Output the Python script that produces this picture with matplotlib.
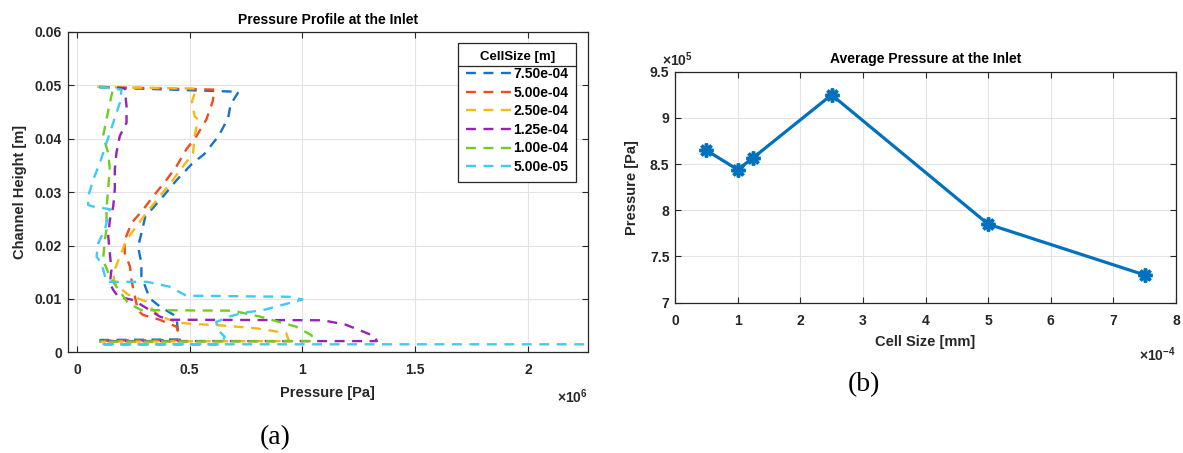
import matplotlib
import matplotlib.pyplot as plt
from matplotlib.lines import Line2D
from matplotlib.ticker import FuncFormatter
import numpy as np

matplotlib.use("Agg")

plt.rcParams["font.family"] = ["Liberation Sans", "DejaVu Sans"]
plt.rcParams["font.weight"] = "bold"
plt.rcParams["axes.labelweight"] = "bold"
plt.rcParams["mathtext.fontset"] = "custom"
plt.rcParams["mathtext.rm"] = "Liberation Sans"

# cell sizes [m] and their line colours (MATLAB-like order)
cell_sizes = [7.5e-4, 5.0e-4, 2.5e-4, 1.25e-4, 1.0e-4, 5.0e-5]
colors = ["#1572c6", "#f04d1a", "#f6b812", "#9622b8", "#72cc22", "#3fcbf2"]

# pressure profiles at the inlet, pressure in 1e6 Pa, height in m
p_750 = [0.10, 0.196, 0.717, 0.681, 0.671, 0.628, 0.564, 0.51, 0.441, 0.38, 0.303,
         0.286, 0.271, 0.286, 0.286, 0.323, 0.367, 0.441, 0.449, 0.449, 0.10]
h_750 = [0.0497, 0.0495, 0.0488, 0.0464, 0.0439, 0.0405, 0.0371, 0.0353, 0.0322, 0.0291,
         0.0254, 0.0223, 0.0198, 0.0167, 0.0142, 0.0101, 0.0086, 0.0067, 0.0036, 0.0024, 0.0023]

p_500 = [0.10, 0.61, 0.602, 0.574, 0.53, 0.485, 0.441, 0.397, 0.338, 0.293, 0.242, 0.212,
         0.212, 0.235, 0.242, 0.252, 0.271, 0.293, 0.367, 0.441, 0.456, 0.456, 0.12]
h_500 = [0.0497, 0.0492, 0.047, 0.0436, 0.0405, 0.038, 0.0348, 0.0323, 0.0292, 0.0267,
         0.0242, 0.021, 0.0186, 0.0161, 0.0136, 0.0114, 0.0078, 0.007, 0.0061, 0.0048,
         0.003, 0.0023, 0.0022]

p_250 = [0.09, 0.53, 0.51, 0.522, 0.537, 0.522, 0.515, 0.47, 0.426, 0.367, 0.308, 0.264,
         0.22, 0.19, 0.161, 0.168, 0.227, 0.308, 0.338, 0.367, 0.441, 0.515, 0.618, 0.707,
         0.795, 0.854, 0.928, 0.94, 0.10]
h_250 = [0.0497, 0.0494, 0.047, 0.0442, 0.0436, 0.0405, 0.0373, 0.0348, 0.0323, 0.0292,
         0.0261, 0.0236, 0.0211, 0.0179, 0.0148, 0.0129, 0.0108, 0.0095, 0.0079, 0.0068,
         0.0056, 0.0053, 0.0051, 0.0048, 0.0045, 0.0041, 0.0036, 0.0021, 0.0020]

p_125 = [0.10, 0.212, 0.22, 0.22, 0.19, 0.175, 0.168, 0.168, 0.161, 0.146, 0.139, 0.146,
         0.153, 0.146, 0.161, 0.183, 0.249, 0.308, 0.367, 0.41, 1.09, 1.19, 1.25, 1.32,
         1.33, 0.10]
h_125 = [0.0497, 0.0495, 0.0461, 0.043, 0.0405, 0.0373, 0.0342, 0.0305, 0.0273, 0.0248,
         0.0217, 0.0186, 0.0154, 0.0129, 0.0117, 0.0104, 0.0098, 0.0083, 0.0067, 0.0061,
         0.006, 0.0052, 0.0042, 0.003, 0.0021, 0.0021]

p_100 = [0.10, 0.161, 0.146, 0.131, 0.116, 0.139, 0.146, 0.139, 0.131, 0.131, 0.124, 0.116,
         0.146, 0.175, 0.227, 0.286, 0.69, 0.81, 0.972, 1.04, 1.05, 0.10]
h_100 = [0.0497, 0.0495, 0.0467, 0.0436, 0.0405, 0.0373, 0.0342, 0.031, 0.0267, 0.023,
         0.0211, 0.0173, 0.0142, 0.0123, 0.0092, 0.0079, 0.0078, 0.0067, 0.0048, 0.0032,
         0.0021, 0.0020]

p_050 = [0.10, 0.198, 0.19, 0.161, 0.131, 0.102, 0.072, 0.05, 0.05, 0.072, 0.146, 0.124,
         0.094, 0.087, 0.109, 0.131, 0.31, 0.41, 0.485, 0.94, 1.0, 0.913, 0.825, 0.736,
         0.677, 0.618, 0.625, 0.655, 0.64, 0.10, 2.5]
h_050 = [0.0497, 0.0492, 0.0467, 0.043, 0.0392, 0.0355, 0.0323, 0.0292, 0.0276, 0.0273,
         0.0268, 0.023, 0.0204, 0.0179, 0.0167, 0.0132, 0.0132, 0.0123, 0.0106, 0.0104,
         0.0099, 0.0089, 0.0079, 0.0074, 0.0067, 0.0057, 0.0042, 0.0029, 0.0015, 0.0015,
         0.0015]

profiles = [(p_750, h_750), (p_500, h_500), (p_250, h_250),
            (p_125, h_125), (p_100, h_100), (p_050, h_050)]

# average pressure at the inlet
avg_cell = [5.0e-5, 1.0e-4, 1.25e-4, 2.5e-4, 5.0e-4, 7.5e-4]
avg_pressure = [8.65e5, 8.44e5, 8.57e5, 9.25e5, 7.85e5, 7.30e5]

TXT = "#262626"
GRID = "#e3e3e3"


def style_axes(ax):
    ax.grid(True, color=GRID, linewidth=0.8)
    ax.set_axisbelow(True)
    ax.tick_params(direction="in", top=True, right=True, length=4,
                   labelsize=10, colors=TXT, width=0.8)
    ax.tick_params(axis="x", pad=8)
    ax.tick_params(axis="y", pad=4)
    for s in ax.spines.values():
        s.set_color(TXT)
        s.set_linewidth(0.9)


fig = plt.figure(figsize=(11.83, 4.53), dpi=100)
ax1 = fig.add_axes([0.0572, 0.2223, 0.4398, 0.7071])
ax2 = fig.add_axes([0.5706, 0.3318, 0.4235, 0.5099])

# (a) pressure profile
for (p, h), c, cs in zip(profiles, colors, cell_sizes):
    ax1.plot(np.array(p) * 1e6, h, color=c, linewidth=1.7, dashes=(4.2, 3.2),
             label=f"{cs:.2e}")
ax1.set_xlim(-0.041e6, 2.266e6)
ax1.set_ylim(0, 0.06)
ax1.set_xticks([0, 0.5e6, 1e6, 1.5e6, 2e6])
ax1.set_yticks([0, 0.01, 0.02, 0.03, 0.04, 0.05, 0.06])
ax1.xaxis.set_major_formatter(FuncFormatter(lambda v, _: f"{v / 1e6:g}"))
ax1.yaxis.set_major_formatter(FuncFormatter(lambda v, _: f"{v:g}"))
style_axes(ax1)
ax1.set_title("Pressure Profile at the Inlet", fontsize=10, fontweight="bold",
              color="black", pad=6)
ax1.set_xlabel("Pressure [Pa]", fontsize=10.5, color=TXT, labelpad=6)
ax1.set_ylabel("Channel Height [m]", fontsize=10.5, color=TXT, labelpad=6)
ax1.text(1.0, -0.14, r"$\times10^{6}$", transform=ax1.transAxes, ha="right",
         va="center", fontsize=10, color=TXT)

leg = ax1.legend(loc="upper right", bbox_to_anchor=(0.977, 0.966), borderaxespad=0,
                 fontsize=10, title="CellSize [m]", handlelength=3.3,
                 handletextpad=0.1, labelspacing=0.33, fancybox=False,
                 edgecolor=TXT, framealpha=1, borderpad=0.55)
leg.get_title().set_fontweight("bold")
leg.get_title().set_fontsize(9.5)
leg.get_frame().set_linewidth(0.9)

# (b) average pressure
ax2.plot(avg_cell, avg_pressure, color="#0072BD", linewidth=2.3,
         marker=(8, 2, 0), markersize=10, markeredgewidth=2.5)
ax2.set_xlim(0, 8e-4)
ax2.set_ylim(7e5, 9.5e5)
ax2.set_xticks(np.arange(0, 9) * 1e-4)
ax2.set_yticks([7e5, 7.5e5, 8e5, 8.5e5, 9e5, 9.5e5])
ax2.xaxis.set_major_formatter(FuncFormatter(lambda v, _: f"{v / 1e-4:.0f}"))
ax2.yaxis.set_major_formatter(FuncFormatter(lambda v, _: f"{v / 1e5:g}"))
style_axes(ax2)
ax2.set_title("Average Pressure at the Inlet", fontsize=10, fontweight="bold",
              color="black", pad=6)
ax2.set_xlabel("Cell Size [mm]", fontsize=10.5, color=TXT, labelpad=5)
ax2.set_ylabel("Pressure [Pa]", fontsize=10.5, color=TXT, labelpad=8)
ax2.text(-0.025, 1.012, r"$\times10^{5}$", transform=ax2.transAxes, ha="left",
         va="bottom", fontsize=10, color=TXT)
ax2.text(1.0, -0.225, r"$\times10^{-4}$", transform=ax2.transAxes, ha="right",
         va="center", fontsize=10, color=TXT)

fig.text(0.233, 0.035, "(a)", fontsize=20, fontweight="normal",
         family="Liberation Serif", ha="center", va="center")
fig.text(0.730, 0.152, "(b)", fontsize=20, fontweight="normal",
         family="Liberation Serif", ha="center", va="center")

# separator under legend title, like MATLAB
fig.canvas.draw()
r = fig.canvas.get_renderer()
lb = leg.get_window_extent(r)
tb = leg.get_title().get_window_extent(r)
y_sep = tb.y0 - 3
inv = fig.transFigure.inverted()
(x0, ys), (x1, _) = inv.transform([(lb.x0, y_sep), (lb.x1, y_sep)])
fig.add_artist(Line2D([x0, x1], [ys, ys], color=TXT, linewidth=0.9))

fig.savefig("out.png", dpi=100)
